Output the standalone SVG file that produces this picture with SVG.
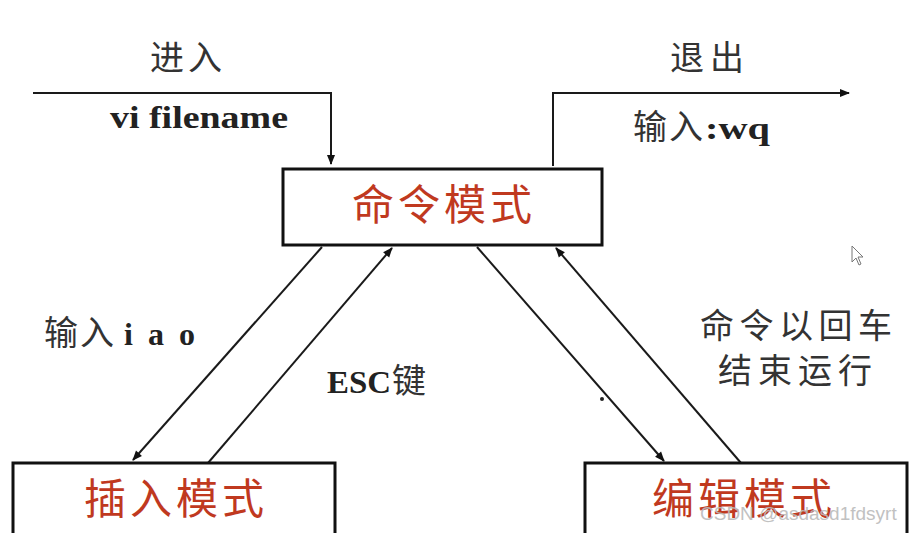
<svg xmlns="http://www.w3.org/2000/svg" width="918" height="533" viewBox="0 0 918 533">
<style>
.box{fill:#fff;stroke:#111;stroke-width:3}
.red{font-family:"Noto Sans CJK SC",sans-serif;font-size:42px;fill:#c0391f}
.cn{font-family:"Noto Sans CJK SC",sans-serif;font-size:34px;fill:#333}
.en{font-family:"Liberation Serif","Noto Sans CJK SC",serif;font-weight:bold;font-size:32px;fill:#222}
.ln{fill:none;stroke:#1a1a1a;stroke-width:2}
</style>
<defs>
<marker id="ah2" viewBox="0 0 10 10" refX="9" refY="5" markerWidth="12" markerHeight="10" orient="auto" markerUnits="userSpaceOnUse">
<path d="M0,1 L10,5 L0,9 z" fill="#111"/>
</marker>
</defs>
<rect width="918" height="533" fill="#fff"/>
<g id="connectors">
<polyline class="ln" points="33,93 331,93 331,164" marker-end="url(#ah2)"/>
<polyline class="ln" points="553,166 553,93 849,93" marker-end="url(#ah2)"/>
<line class="ln" x1="322" y1="247" x2="133" y2="460" marker-end="url(#ah2)"/>
<line class="ln" x1="208" y1="463" x2="392" y2="248" marker-end="url(#ah2)"/>
<line class="ln" x1="477" y1="247" x2="664" y2="461" marker-end="url(#ah2)"/>
<line class="ln" x1="741" y1="463" x2="556" y2="248" marker-end="url(#ah2)"/>
</g>
<g id="labels">
<text class="cn" x="150" y="70" textLength="72" lengthAdjust="spacing">进入</text>
<text class="en" x="110" y="128" textLength="178" lengthAdjust="spacingAndGlyphs">vi filename</text>
<text class="cn" x="670" y="70" textLength="74" lengthAdjust="spacing">退出</text>
<text class="cn" x="633" y="139" textLength="70" lengthAdjust="spacing">输入</text>
<text class="en" x="705" y="139" textLength="65" lengthAdjust="spacingAndGlyphs">:wq</text>
<text class="cn" x="44" y="345" textLength="70" lengthAdjust="spacing">输入</text>
<text class="en" x="124" y="345" textLength="71" lengthAdjust="spacing">iao</text>
<text class="en" x="327" y="393" textLength="64" lengthAdjust="spacingAndGlyphs">ESC</text>
<text class="cn" x="392" y="393">键</text>
<text class="cn" x="700" y="338" textLength="192" lengthAdjust="spacing">命令以回车</text>
<text class="cn" x="718" y="383" textLength="154" lengthAdjust="spacing">结束运行</text>
<circle cx="602" cy="399" r="2" fill="#222"/>
</g>
<g id="cmd">
<rect class="box" x="283" y="169" width="319" height="76"/>
<text class="red" x="352" y="220" textLength="180" lengthAdjust="spacing">命令模式</text>
</g>
<g id="insert">
<rect class="box" x="13" y="463" width="322" height="80"/>
<text class="red" x="84" y="514" textLength="180" lengthAdjust="spacing">插入模式</text>
</g>
<g id="edit">
<rect class="box" x="585" y="463" width="322" height="80"/>
<text class="red" x="652" y="514" textLength="180" lengthAdjust="spacing">编辑模式</text>
</g>
<text x="700" y="520" font-family="Liberation Sans,sans-serif" font-size="19" fill="#bbb" opacity="0.9">CSDN @asdasd1fdsyrt</text>
<path d="M852,246 L852,262 L856,258 L859,265 L861,264 L858,257 L863,257 z" fill="#fff" stroke="#777" stroke-width="1"/>
</svg>
